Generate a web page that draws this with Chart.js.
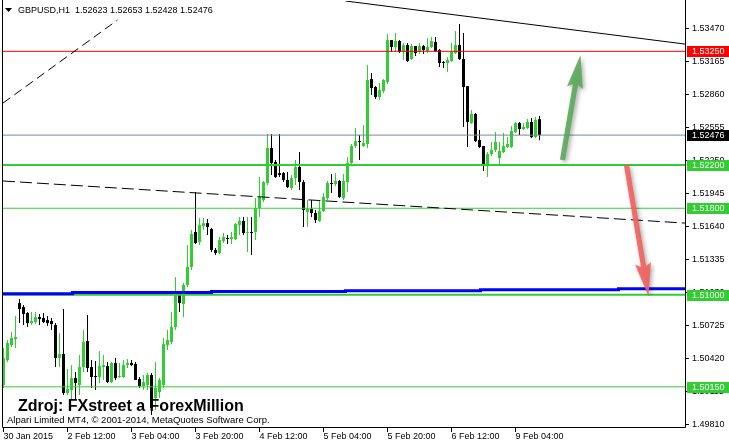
<!DOCTYPE html>
<html>
<head>
<meta charset="utf-8">
<script src="https://cdn.jsdelivr.net/npm/chart.js@4.4.1/dist/chart.umd.min.js"></script>
<style>
  html, body { margin: 0; padding: 0; background: #fff; }
  canvas { display: block; }
</style>
</head>
<body>
<canvas id="chart" width="729" height="445"></canvas>
<script>
// GBPUSD H1, bar 0 = 30 Jan 2015 20:00
const opens = [
  1.50167, 1.50398, 1.50536, 1.50592, 1.50924, 1.50887, 1.50832, 1.50739, 1.50749, 1.50795,
  1.50786, 1.50767, 1.50758, 1.50721, 1.50416, 1.50453, 1.50093, 1.50120, 1.50231, 1.50167,
  1.50333, 1.50573, 1.50333, 1.50250, 1.50241, 1.50333, 1.50342, 1.50194, 1.50370, 1.50241,
  1.50241, 1.50351, 1.50370, 1.50361, 1.50222, 1.50157, 1.50167, 1.50259, 1.50046, 1.50102,
  1.50167, 1.50536, 1.50564, 1.50703, 1.50998, 1.50915, 1.51091, 1.51257, 1.51580, 1.51488,
  1.51636, 1.51663, 1.51608, 1.51414, 1.51386, 1.51497, 1.51525, 1.51516, 1.51516, 1.51645,
  1.51682, 1.51571, 1.51580, 1.51580, 1.51802, 1.51876, 1.52033, 1.52356, 1.52227, 1.52125,
  1.52125, 1.52061, 1.51987, 1.52079, 1.52181, 1.52042, 1.51765, 1.51793, 1.51756, 1.51682,
  1.51774, 1.51894, 1.52033, 1.52024, 1.52052, 1.51894, 1.52042, 1.52218, 1.52375, 1.52421,
  1.52375, 1.52393, 1.52994, 1.52920, 1.52828, 1.52883, 1.52966, 1.53354, 1.53290, 1.53345,
  1.53244, 1.53308, 1.53179, 1.53299, 1.53244, 1.53299, 1.53253, 1.53290, 1.53336, 1.53262,
  1.53151, 1.53142, 1.53160, 1.53234, 1.53308, 1.53179, 1.52929, 1.52587, 1.52671, 1.52430,
  1.52375, 1.52190, 1.52301, 1.52338, 1.52264, 1.52320, 1.52366, 1.52366, 1.52504, 1.52587,
  1.52532, 1.52541, 1.52597, 1.52458, 1.52623
];
const highs = [
  1.50508, 1.50582, 1.50656, 1.50804, 1.50961, 1.50906, 1.50841, 1.50841, 1.50841, 1.50823,
  1.50832, 1.50804, 1.50786, 1.50739, 1.50647, 1.50869, 1.50314, 1.50351, 1.50287, 1.50444,
  1.50675, 1.50813, 1.50398, 1.50388, 1.50481, 1.50444, 1.50379, 1.50379, 1.50416, 1.50370,
  1.50398, 1.50407, 1.50398, 1.50379, 1.50241, 1.50259, 1.50277, 1.50277, 1.50379, 1.50231,
  1.50601, 1.50675, 1.50841, 1.51165, 1.51026, 1.51109, 1.51460, 1.51599, 1.51950, 1.51710,
  1.51710, 1.51700, 1.51617, 1.51432, 1.51534, 1.51571, 1.51553, 1.51580, 1.51663, 1.51719,
  1.51719, 1.51719, 1.51719, 1.51894, 1.52089, 1.52052, 1.52486, 1.52486, 1.52246, 1.52486,
  1.52135, 1.52135, 1.52107, 1.52246, 1.52320, 1.52061, 1.51876, 1.51876, 1.51784, 1.51876,
  1.51941, 1.52052, 1.52116, 1.52125, 1.52061, 1.52116, 1.52273, 1.52393, 1.52541, 1.52477,
  1.52569, 1.53123, 1.53049, 1.52929, 1.52957, 1.52994, 1.53410, 1.53354, 1.53419, 1.53354,
  1.53327, 1.53327, 1.53317, 1.53299, 1.53327, 1.53308, 1.53373, 1.53382, 1.53382, 1.53271,
  1.53160, 1.53197, 1.53327, 1.53438, 1.53502, 1.53419, 1.52929, 1.52708, 1.52680, 1.52523,
  1.52375, 1.52320, 1.52412, 1.52504, 1.52412, 1.52495, 1.52458, 1.52560, 1.52597, 1.52597,
  1.52587, 1.52624, 1.52634, 1.52643, 1.52653
];
const lows = [
  1.50139, 1.50379, 1.50518, 1.50508, 1.50739, 1.50721, 1.50703, 1.50721, 1.50730, 1.50721,
  1.50739, 1.50712, 1.50675, 1.50333, 1.50333, 1.50074, 1.50074, 1.50028, 1.50028, 1.50074,
  1.50287, 1.50287, 1.50139, 1.50120, 1.50185, 1.50213, 1.50185, 1.50185, 1.50213, 1.50231,
  1.50231, 1.50324, 1.50342, 1.50213, 1.50139, 1.50120, 1.50120, 1.49889, 1.49936, 1.50046,
  1.50139, 1.50490, 1.50545, 1.50675, 1.50841, 1.50795, 1.51072, 1.51229, 1.51469, 1.51460,
  1.51599, 1.51553, 1.51396, 1.51368, 1.51377, 1.51479, 1.51469, 1.51469, 1.51506, 1.51553,
  1.51553, 1.51396, 1.51368, 1.51506, 1.51719, 1.51858, 1.52015, 1.52107, 1.52079, 1.52089,
  1.52042, 1.51987, 1.51968, 1.52015, 1.51968, 1.51627, 1.51627, 1.51719, 1.51663, 1.51673,
  1.51765, 1.51876, 1.51941, 1.52005, 1.51894, 1.51876, 1.51950, 1.52199, 1.52356, 1.52246,
  1.52366, 1.52356, 1.52846, 1.52809, 1.52800, 1.52865, 1.52948, 1.53244, 1.53244, 1.53234,
  1.53170, 1.53151, 1.53170, 1.53207, 1.53225, 1.53225, 1.53234, 1.53280, 1.53244, 1.53105,
  1.53096, 1.53059, 1.53151, 1.53225, 1.53170, 1.52551, 1.52366, 1.52578, 1.52412, 1.52356,
  1.52144, 1.52089, 1.52283, 1.52320, 1.52199, 1.52310, 1.52356, 1.52356, 1.52495, 1.52477,
  1.52523, 1.52532, 1.52449, 1.52449, 1.52428
];
const closes = [
  1.50416, 1.50555, 1.50601, 1.50610, 1.50869, 1.50823, 1.50739, 1.50758, 1.50795, 1.50776,
  1.50749, 1.50739, 1.50730, 1.50416, 1.50453, 1.50093, 1.50130, 1.50231, 1.50185, 1.50333,
  1.50564, 1.50324, 1.50241, 1.50241, 1.50342, 1.50351, 1.50194, 1.50370, 1.50231, 1.50250,
  1.50351, 1.50370, 1.50351, 1.50213, 1.50157, 1.50194, 1.50259, 1.49954, 1.50139, 1.50213,
  1.50545, 1.50582, 1.50703, 1.50998, 1.50924, 1.51091, 1.51257, 1.51562, 1.51479, 1.51645,
  1.51663, 1.51627, 1.51414, 1.51386, 1.51506, 1.51534, 1.51516, 1.51534, 1.51654, 1.51682,
  1.51571, 1.51580, 1.51571, 1.51802, 1.51904, 1.52042, 1.52356, 1.52218, 1.52089, 1.52107,
  1.52061, 1.51996, 1.52079, 1.52181, 1.52042, 1.51784, 1.51793, 1.51756, 1.51691, 1.51774,
  1.51904, 1.52033, 1.52024, 1.52052, 1.51904, 1.52052, 1.52218, 1.52375, 1.52421, 1.52412,
  1.52403, 1.52985, 1.52911, 1.52828, 1.52892, 1.52985, 1.53354, 1.53290, 1.53345, 1.53244,
  1.53308, 1.53160, 1.53299, 1.53234, 1.53299, 1.53262, 1.53290, 1.53345, 1.53253, 1.53142,
  1.53142, 1.53170, 1.53244, 1.53308, 1.53179, 1.52920, 1.52597, 1.52671, 1.52421, 1.52366,
  1.52190, 1.52301, 1.52338, 1.52412, 1.52329, 1.52375, 1.52393, 1.52514, 1.52587, 1.52532,
  1.52551, 1.52597, 1.52458, 1.52615, 1.52476
];

const timeLabels = ['30 Jan 2015', '2 Feb 12:00', '3 Feb 04:00', '3 Feb 20:00', '4 Feb 12:00',
                    '5 Feb 04:00', '5 Feb 20:00', '6 Feb 12:00', '9 Feb 04:00'];
const timeLabelBars = [0, 16, 32, 48, 64, 80, 96, 112, 128];
const priceTicks = [1.53470, 1.53165, 1.52860, 1.52555, 1.52250, 1.51945, 1.51640,
                    1.51335, 1.51030, 1.50725, 1.50420, 1.50115, 1.49810];

// horizontal levels
const redLevel = 1.53250;
const greenLevels = [1.52200, 1.51800, 1.51000, 1.50150];
const lastPrice = 1.52476;

// drawn objects, points as [bar, price]
const trendSolid = [[85.5, 1.53715], [170.375, 1.53317]];
const trendDashUp = [[-0.125, 1.52772], [28.5, 1.53539]];
const trendDashFlat = [[-0.125, 1.52052], [170.375, 1.51663]];
const blueStepBars = [-0.125, 17.25, 52, 85.5, 119.25, 153.75, 170.375];
const blueStepPrices = [1.51010, 1.51021, 1.51030, 1.51038, 1.51047, 1.51056, 1.51056];
const arrowUp = [[139.75, 1.52246], [144.25, 1.53216]];
const arrowDown = [[155.75, 1.52199], [161.25, 1.50989]];

const xMin = -0.125, xMax = 170.375;
const yMin = 1.49779, yMax = 1.53715;
const BULL = '#32CD32', BEAR = '#000000';
const FONT = '"Liberation Sans", Arial, sans-serif';

const idx = opens.map((_, i) => i);
const candleColors = idx.map(i => closes[i] >= opens[i] ? BULL : BEAR);

function hLine(price, color, width) {
  return {
    type: 'line', data: [{x: xMin, y: price}, {x: xMax, y: price}],
    borderColor: color, borderWidth: width, pointRadius: 0, order: 1
  };
}
function segLine(pts, color, width, dash) {
  return {
    type: 'line', data: pts.map(p => ({x: p[0], y: p[1]})),
    borderColor: color, borderWidth: width, borderDash: dash || [], pointRadius: 0, order: 1
  };
}

function drawArrow(ctx, x1, y1, x2, y2, color) {
  const dx = x2 - x1, dy = y2 - y1, len = Math.hypot(dx, dy);
  const ux = dx / len, uy = dy / len, nx = -uy, ny = ux;
  const hl = 30, hw = 8, sw = 2.6;
  const bx = x2 - ux * hl, by = y2 - uy * hl;
  ctx.save();
  ctx.fillStyle = color;
  ctx.shadowColor = 'rgba(0,0,0,0.35)';
  ctx.shadowBlur = 4; ctx.shadowOffsetX = 2; ctx.shadowOffsetY = 2;
  ctx.beginPath();
  ctx.moveTo(x1 + nx * sw, y1 + ny * sw);
  ctx.lineTo(bx + nx * sw, by + ny * sw);
  ctx.lineTo(bx - ux * 3 + nx * hw, by - uy * 3 + ny * hw);
  ctx.lineTo(x2, y2);
  ctx.lineTo(bx - ux * 3 - nx * hw, by - uy * 3 - ny * hw);
  ctx.lineTo(bx - nx * sw, by - ny * sw);
  ctx.lineTo(x1 - nx * sw, y1 - ny * sw);
  ctx.closePath();
  ctx.fill();
  ctx.restore();
}

const mt4Overlay = {
  id: 'mt4Overlay',
  afterDraw(chart) {
    const ctx = chart.ctx, xs = chart.scales.x, ys = chart.scales.y, a = chart.chartArea;
    ctx.save();

    // arrows
    drawArrow(ctx, xs.getPixelForValue(arrowUp[0][0]), ys.getPixelForValue(arrowUp[0][1]),
              xs.getPixelForValue(arrowUp[1][0]), ys.getPixelForValue(arrowUp[1][1]), 'rgba(90,170,90,0.9)');
    drawArrow(ctx, xs.getPixelForValue(arrowDown[0][0]), ys.getPixelForValue(arrowDown[0][1]),
              xs.getPixelForValue(arrowDown[1][0]), ys.getPixelForValue(arrowDown[1][1]), 'rgba(245,95,95,0.9)');

    // frame
    ctx.strokeStyle = '#000'; ctx.lineWidth = 1;
    ctx.beginPath();
    ctx.moveTo(a.left - 0.5, 0); ctx.lineTo(a.left - 0.5, a.bottom + 0.5);
    ctx.lineTo(a.right + 0.5, a.bottom + 0.5); ctx.lineTo(a.right + 0.5, 0);
    ctx.stroke();

    // price axis
    ctx.font = '9px ' + FONT;
    ctx.textAlign = 'left'; ctx.textBaseline = 'middle'; ctx.fillStyle = '#000';
    priceTicks.forEach(v => {
      const y = Math.round(ys.getPixelForValue(v)) + 0.5;
      ctx.beginPath(); ctx.moveTo(a.right + 1, y); ctx.lineTo(a.right + 4, y); ctx.stroke();
      ctx.fillText(v.toFixed(5), a.right + 7, y);
    });
    const boxes = [[redLevel, '#FF0000']].concat(greenLevels.map(v => [v, BULL]), [[lastPrice, '#000000']]);
    boxes.forEach(([v, bg]) => {
      const y = ys.getPixelForValue(v);
      ctx.fillStyle = bg; ctx.fillRect(a.right + 2, Math.round(y) - 5, 44, 11);
      ctx.fillStyle = '#fff'; ctx.fillText(v.toFixed(5), a.right + 7, y + 0.5);
    });

    // time axis
    ctx.fillStyle = '#000';
    timeLabelBars.forEach((b, k) => {
      const x = Math.floor(xs.getPixelForValue(b)) + 0.5;
      ctx.beginPath(); ctx.moveTo(x, a.bottom + 1); ctx.lineTo(x, a.bottom + 5); ctx.stroke();
      ctx.fillText(timeLabels[k], x, a.bottom + 9.5);
    });

    // title
    const last = opens.length - 1;
    ctx.beginPath(); ctx.moveTo(5, 8); ctx.lineTo(12, 8); ctx.lineTo(8.5, 12); ctx.closePath(); ctx.fill();
    ctx.fillText('GBPUSD,H1  ' + [opens[last], highs[last], lows[last], closes[last]].map(v => v.toFixed(5)).join(' '), 18, 10.5);

    // watermark
    ctx.font = 'bold 16px ' + FONT;
    ctx.textBaseline = 'alphabetic';
    ctx.fillText('Zdroj: FXstreet a ForexMillion', 18, 411);
    ctx.font = '9.5px ' + FONT;
    ctx.textBaseline = 'middle';
    ctx.fillText('Alpari Limited MT4, \u00A9 2001-2014, MetaQuotes Software Corp.', 7, 420);
    ctx.restore();
  }
};

new Chart(document.getElementById('chart'), {
  type: 'bar',
  data: {
    datasets: [
      { type: 'bar', data: idx.map(i => ({x: i, y: [lows[i], highs[i]]})), backgroundColor: candleColors,
        barThickness: 1, grouped: false, order: 3, inflateAmount: 0, borderWidth: 0 },
      { type: 'bar', data: idx.map(i => ({x: i, y: [opens[i], closes[i]]})), backgroundColor: candleColors,
        barThickness: 3, grouped: false, order: 2, inflateAmount: 0, borderWidth: 0, minBarLength: 1 },
      segLine(trendDashUp, '#000', 1, [9, 5]),
      segLine(trendDashFlat, '#000', 1, [12, 5]),
      segLine(trendSolid, '#000', 1),
      { type: 'line', data: blueStepBars.map((b, k) => ({x: b, y: blueStepPrices[k]})), stepped: 'before',
        borderColor: '#0000FF', borderWidth: 3, pointRadius: 0, order: 1 },
      hLine(redLevel, '#FF0000', 1),
      hLine(lastPrice, '#778899', 1),
      hLine(greenLevels[0], BULL, 2),
      hLine(greenLevels[1], BULL, 1),
      hLine(greenLevels[2], BULL, 2),
      hLine(greenLevels[3], BULL, 1)
    ]
  },
  options: {
    responsive: false,
    animation: false,
    devicePixelRatio: 1,
    layout: { padding: { left: 3, right: 44, top: 1, bottom: 18 } },
    scales: {
      x: { type: 'linear', display: false, min: xMin, max: xMax, offset: false },
      y: { type: 'linear', display: false, min: yMin, max: yMax }
    },
    plugins: { legend: { display: false }, tooltip: { enabled: false } }
  },
  plugins: [mt4Overlay]
});
</script>
</body>
</html>
